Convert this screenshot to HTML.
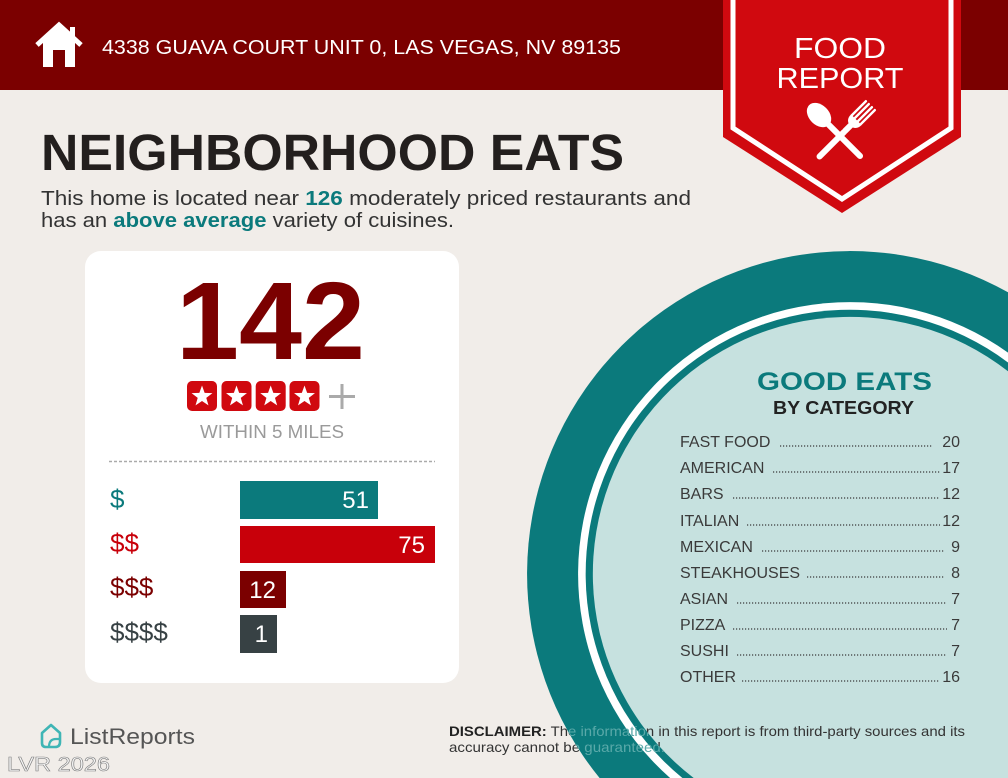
<!DOCTYPE html>
<html>
<head>
<meta charset="utf-8">
<style>
html,body{margin:0;padding:0;background:#f1ede9;width:1008px;height:778px;overflow:hidden;}
svg{display:block;position:absolute;left:0;top:0;}
text{font-family:"Liberation Sans",sans-serif;}
</style>
</head>
<body>
<svg width="1008" height="778" viewBox="0 0 1008 778" xmlns="http://www.w3.org/2000/svg">
<defs>
<path id="star" d="M0,-11 L2.645,-3.64 L10.46,-3.4 L4.28,1.39 L6.47,8.9 L0,4.5 L-6.47,8.9 L-4.28,1.39 L-10.46,-3.4 L-2.645,-3.64 Z" fill="#fff"/>
<clipPath id="ring">
  <path clip-rule="evenodd" d="M1008,292.3 A323,323 0 0 0 599.6,778 L1008,778 Z M1008,371.3 A257,257 0 1 0 693.7,778 L1008,778 Z"/>
</clipPath>
<clipPath id="inner">
  <path d="M1008,371.3 A257,257 0 1 0 693.7,778 L1008,778 Z"/>
</clipPath>
</defs>
<rect x="0" y="0" width="1008" height="778" fill="#f1ede9"/>

<!-- header -->
<rect x="0" y="0" width="1008" height="90" fill="#7b0000"/>
<polygon points="59,28 43,42 43,67 53,67 53,50 65,50 65,67 75,67 75,42" fill="#fff"/>
<polyline points="37,45 59,25 81,45" fill="none" stroke="#fff" stroke-width="5" stroke-linejoin="miter"/>
<rect x="70" y="27" width="5" height="11" fill="#fff"/>
<text x="102" y="54" font-size="20" fill="#fff" textLength="519" lengthAdjust="spacingAndGlyphs">4338 GUAVA COURT UNIT 0, LAS VEGAS, NV 89135</text>

<!-- ribbon -->
<polygon points="723,0 961,0 961,137 842,213 723,137" fill="#d0090f"/>
<polyline points="733,0 733,128 842,199 951,128 951,0" fill="none" stroke="#fff" stroke-width="5"/>
<text x="840" y="58" font-size="29" fill="#fff" text-anchor="middle" textLength="92" lengthAdjust="spacingAndGlyphs">FOOD</text>
<text x="840" y="88" font-size="29" fill="#fff" text-anchor="middle" textLength="127" lengthAdjust="spacingAndGlyphs">REPORT</text>
<g transform="translate(845,131) rotate(45)" fill="#fff">
  <rect x="-3" y="-2" width="6" height="41" rx="3"/>
  <path d="M-3,0 L-3,-8 Q-7.5,-10 -7.5,-16 L7.5,-16 Q7.5,-10 3,-8 L3,0 Z"/>
  <rect x="-7.5" y="-37" width="2.4" height="22" rx="1"/>
  <rect x="-3.4" y="-37" width="2.4" height="22" rx="1"/>
  <rect x="1" y="-37" width="2.4" height="22" rx="1"/>
  <rect x="5.1" y="-37" width="2.4" height="22" rx="1"/>
</g>
<g transform="translate(836,132) rotate(-45)" fill="#fff">
  <ellipse cx="0" cy="-24" rx="10" ry="14"/>
  <rect x="-3" y="-14" width="6" height="51" rx="3"/>
</g>

<!-- title -->
<text x="41" y="170" font-size="51" font-weight="bold" fill="#231f1e" textLength="583" lengthAdjust="spacingAndGlyphs">NEIGHBORHOOD EATS</text>
<text x="41" y="205" font-size="20" fill="#333" textLength="650" lengthAdjust="spacingAndGlyphs">This home is located near <tspan font-weight="bold" fill="#0b7a7c">126</tspan> moderately priced restaurants and</text>
<text x="41" y="227" font-size="20" fill="#333" textLength="413" lengthAdjust="spacingAndGlyphs">has an <tspan font-weight="bold" fill="#0b7a7c">above average</tspan> variety of cuisines.</text>

<!-- card -->
<rect x="85" y="251" width="374" height="432" rx="16" fill="#fff"/>
<text x="176" y="359" font-size="110" font-weight="bold" fill="#7b0000" textLength="189" lengthAdjust="spacingAndGlyphs">142</text>
<rect x="187" y="381" width="30" height="30" rx="5" fill="#d0090f"/>
<rect x="221.5" y="381" width="30" height="30" rx="5" fill="#d0090f"/>
<rect x="255.7" y="381" width="30" height="30" rx="5" fill="#d0090f"/>
<rect x="289.5" y="381" width="30" height="30" rx="5" fill="#d0090f"/>
<use href="#star" x="202" y="396.5"/>
<use href="#star" x="236.5" y="396.5"/>
<use href="#star" x="270.7" y="396.5"/>
<use href="#star" x="304.5" y="396.5"/>
<rect x="329" y="395" width="26" height="3" fill="#aaa"/>
<rect x="340.5" y="384" width="3" height="25" fill="#aaa"/>
<text x="200" y="438" font-size="18" fill="#9a9a9a" textLength="144" lengthAdjust="spacingAndGlyphs">WITHIN 5 MILES</text>
<line x1="109" y1="461.5" x2="435" y2="461.5" stroke="#aaa" stroke-width="1.5" stroke-dasharray="3 2"/>

<rect x="240" y="481" width="138" height="38" fill="#0b7a7c"/>
<rect x="240" y="526" width="195" height="37" fill="#c8000a"/>
<rect x="240" y="571" width="46" height="37" fill="#7b0000"/>
<rect x="240" y="615" width="37" height="38" fill="#374144"/>
<text x="369" y="508" font-size="24" fill="#fff" text-anchor="end">51</text>
<text x="425" y="553" font-size="24" fill="#fff" text-anchor="end">75</text>
<text x="276" y="598" font-size="24" fill="#fff" text-anchor="end">12</text>
<text x="268" y="642" font-size="24" fill="#fff" text-anchor="end">1</text>
<text x="110" y="508" font-size="26" fill="#0b7a7c">$</text>
<text x="110" y="552" font-size="26" fill="#c8000a">$$</text>
<text x="110" y="596" font-size="26" fill="#7b0000">$$$</text>
<text x="110" y="641" font-size="26" fill="#374144">$$$$</text>

<!-- disclaimer (base, outside circle) -->
<text x="449" y="736" font-size="14" fill="#333" textLength="516" lengthAdjust="spacingAndGlyphs"><tspan font-weight="bold" fill="#222">DISCLAIMER:</tspan> The information in this report is from third-party sources and its</text>
<text x="449" y="752" font-size="14" fill="#333" textLength="216" lengthAdjust="spacingAndGlyphs">accuracy cannot be guaranteed.</text>

<!-- circle (clipped to frame) -->
<path d="M1008,292.3 A323,323 0 0 0 599.6,778 L1008,778 Z" fill="#0b7a7c"/>
<path d="M1008,352.6 A272,272 0 0 0 670.1,778 L1008,778 Z" fill="#fff"/>
<path d="M1008,362.5 A264,264 0 0 0 682.4,778 L1008,778 Z" fill="#0b7a7c"/>
<path d="M1008,371.3 A257,257 0 1 0 693.7,778 L1008,778 Z" fill="#c6e1df"/>

<!-- disclaimer over ring (light teal) and inner (dark) -->
<g clip-path="url(#ring)">
<text x="449" y="736" font-size="14" fill="#5aa9a9" textLength="516" lengthAdjust="spacingAndGlyphs"><tspan font-weight="bold">DISCLAIMER:</tspan> The information in this report is from third-party sources and its</text>
<text x="449" y="752" font-size="14" fill="#5aa9a9" textLength="216" lengthAdjust="spacingAndGlyphs">accuracy cannot be guaranteed.</text>
</g>
<g clip-path="url(#inner)">
<text x="449" y="736" font-size="14" fill="#333" textLength="516" lengthAdjust="spacingAndGlyphs"><tspan font-weight="bold" fill="#222">DISCLAIMER:</tspan> The information in this report is from third-party sources and its</text>
<text x="449" y="752" font-size="14" fill="#333" textLength="216" lengthAdjust="spacingAndGlyphs">accuracy cannot be guaranteed.</text>
</g>

<text x="757" y="390" font-size="25" font-weight="bold" fill="#0b7a7c" textLength="175" lengthAdjust="spacingAndGlyphs">GOOD EATS</text>
<text x="773" y="414" font-size="18" font-weight="bold" fill="#222" textLength="141" lengthAdjust="spacingAndGlyphs">BY CATEGORY</text>

<g font-size="16" fill="#3a3a3a">
<text x="680" y="447">FAST FOOD</text><text x="960" y="447" text-anchor="end">20</text>
<text x="680" y="473">AMERICAN</text><text x="960" y="473" text-anchor="end">17</text>
<text x="680" y="499">BARS</text><text x="960" y="499" text-anchor="end">12</text>
<text x="680" y="526">ITALIAN</text><text x="960" y="526" text-anchor="end">12</text>
<text x="680" y="552">MEXICAN</text><text x="960" y="552" text-anchor="end">9</text>
<text x="680" y="578">STEAKHOUSES</text><text x="960" y="578" text-anchor="end">8</text>
<text x="680" y="604">ASIAN</text><text x="960" y="604" text-anchor="end">7</text>
<text x="680" y="630">PIZZA</text><text x="960" y="630" text-anchor="end">7</text>
<text x="680" y="656">SUSHI</text><text x="960" y="656" text-anchor="end">7</text>
<text x="680" y="682">OTHER</text><text x="960" y="682" text-anchor="end">16</text>
</g>
<g stroke="#3a3a3a" stroke-width="1.3" stroke-dasharray="1.2 1.8">
<line x1="780" y1="446" x2="933" y2="446"/>
<line x1="773" y1="472" x2="940" y2="472"/>
<line x1="733" y1="498" x2="940" y2="498"/>
<line x1="747" y1="525" x2="940" y2="525"/>
<line x1="762" y1="551" x2="944" y2="551"/>
<line x1="807" y1="577" x2="944" y2="577"/>
<line x1="737" y1="603" x2="947" y2="603"/>
<line x1="733" y1="629" x2="947" y2="629"/>
<line x1="737" y1="655" x2="947" y2="655"/>
<line x1="742" y1="681" x2="940" y2="681"/>
</g>

<!-- ListReports -->
<path d="M42,733 L51,725 L60,733 L60,742 Q60,747 55,747 L46,747 Q42,747 42,743 Z" fill="none" stroke="#3fb5b5" stroke-width="2.6" stroke-linejoin="round"/>
<path d="M49,747 Q49,739 56,739 L60,739" fill="none" stroke="#3fb5b5" stroke-width="2.2"/>
<text x="70" y="744" font-size="22" fill="#555" textLength="125" lengthAdjust="spacingAndGlyphs">ListReports</text>
<text x="7" y="771" font-size="20" fill="#f6f6f6" stroke="#808080" stroke-width="0.6" textLength="103" lengthAdjust="spacingAndGlyphs">LVR 2026</text>
</svg>
</body>
</html>
